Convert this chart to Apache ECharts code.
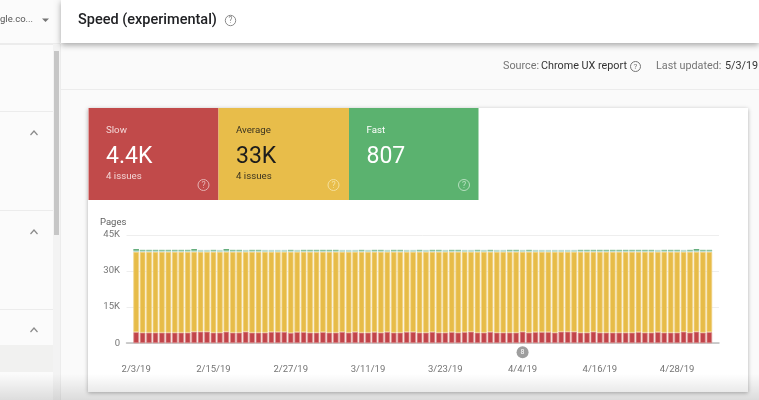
<!DOCTYPE html>
<html>
<head>
<meta charset="utf-8">
<style>html,body{margin:0;padding:0;background:#fafafa}#container{width:759px;height:400px}</style>
<script src="https://cdn.jsdelivr.net/npm/echarts@6/dist/echarts.min.js"></script>
</head>
<body>
<div id="container"></div>
<script>
// one category per day, the chart leaves a blank slot at each end
var days = ['2/3/19','2/4/19','2/5/19','2/6/19','2/7/19','2/8/19','2/9/19','2/10/19','2/11/19','2/12/19',
  '2/13/19','2/14/19','2/15/19','2/16/19','2/17/19','2/18/19','2/19/19','2/20/19','2/21/19','2/22/19',
  '2/23/19','2/24/19','2/25/19','2/26/19','2/27/19','2/28/19','3/1/19','3/2/19','3/3/19','3/4/19',
  '3/5/19','3/6/19','3/7/19','3/8/19','3/9/19','3/10/19','3/11/19','3/12/19','3/13/19','3/14/19',
  '3/15/19','3/16/19','3/17/19','3/18/19','3/19/19','3/20/19','3/21/19','3/22/19','3/23/19','3/24/19',
  '3/25/19','3/26/19','3/27/19','3/28/19','3/29/19','3/30/19','3/31/19','4/1/19','4/2/19','4/3/19',
  '4/4/19','4/5/19','4/6/19','4/7/19','4/8/19','4/9/19','4/10/19','4/11/19','4/12/19','4/13/19',
  '4/14/19','4/15/19','4/16/19','4/17/19','4/18/19','4/19/19','4/20/19','4/21/19','4/22/19','4/23/19',
  '4/24/19','4/25/19','4/26/19','4/27/19','4/28/19','4/29/19','4/30/19','5/1/19','5/2/19','5/3/19'];
var slow = [4600,4400,4400,4400,4400,4400,4400,4400,4400,4800,
  4800,4800,4400,4400,4800,4400,4400,4800,4400,4400,
  4400,4700,4700,4700,4300,4600,4600,4400,4400,4600,
  4400,4400,4700,4400,4700,4400,4400,4600,4400,4700,
  4400,4400,4700,4700,4400,4400,4700,4400,4400,4600,
  4400,4600,4800,4400,4400,4700,4400,4400,4400,4400,
  4800,4400,4600,4600,4600,4400,4800,4800,4800,4400,
  4400,4800,4400,4400,4400,4400,4400,4400,4600,4400,
  4400,4600,4400,4400,4400,4800,4400,4800,4400,4600];
var average = [33300,33500,33500,33500,33500,33500,33500,33500,33500,33100,
  33100,33100,33500,33500,33100,33500,33500,33100,33500,33500,
  33500,33200,33200,33200,33600,33300,33300,33500,33500,33300,
  33500,33500,33200,33500,33200,33500,33500,33300,33500,33200,
  33500,33500,33200,33200,33500,33500,33200,33500,33500,33300,
  33500,33300,33100,33500,33500,33200,33500,33500,33500,33500,
  33100,33500,33300,33300,33300,33500,33100,33100,33100,33500,
  33500,33100,33500,33500,33500,33500,33500,33500,33300,33500,
  33500,33300,33500,33500,33500,33100,33500,33100,33500,33300];
var fast = [550,550,550,550,550,550,550,550,550,550,
  850,850,550,850,550,550,550,850,550,550,
  850,850,850,850,550,850,550,550,550,550,
  550,550,850,850,850,550,850,550,550,850,
  550,550,850,850,550,850,550,550,850,550,
  550,850,850,550,850,550,850,850,550,550,
  850,550,850,850,850,850,850,850,850,550,
  550,550,550,550,550,550,550,550,550,550,
  550,850,550,550,550,850,550,550,550,550];
var fastTop = [600,300,300,300,300,300,300,300,300,600,
  0,0,300,0,600,300,300,0,300,300,
  0,0,0,0,300,0,300,300,300,300,
  300,300,0,0,0,300,0,300,300,0,
  300,300,0,0,300,0,300,300,0,300,
  300,0,0,300,0,300,0,0,300,300,
  0,300,0,0,0,0,0,0,0,300,
  300,300,300,300,300,300,300,300,300,300,
  300,0,300,300,300,0,300,600,300,300];
var tickLabels = ['2/3/19','2/15/19','2/27/19','3/11/19','3/23/19','4/4/19','4/16/19','4/28/19'];
var annotationDay = '4/4/19';
var annotationCount = '8';
var tileNames = ['Slow','Average','Fast'];
var tileValues = ['4.4K','33K','807'];
var tileNotes = ['4 issues','4 issues',''];

var FONT = 'Roboto';
var dom = document.getElementById('container');
var myChart = echarts.init(dom);

function pairs(arr) {
  return arr.map(function (v, i) { return [days[i], v]; });
}
function txt(x, y, text, size, color, weight) {
  return {type: 'text', x: x, y: y, style: {text: text, fontFamily: FONT, fontSize: size, fill: color, fontWeight: weight || 400, verticalAlign: 'middle'}};
}
function help(x, y, color, r) {
  r = r || 5;
  return {type: 'group', x: x, y: y, children: [
    {type: 'circle', shape: {cx: 0, cy: 0, r: r}, style: {fill: 'none', stroke: color, lineWidth: 1}},
    {type: 'text', style: {text: '?', x: 0, y: 0.5, align: 'center', verticalAlign: 'middle', fontFamily: FONT, fontSize: r * 1.6, fill: color}}
  ]};
}
function chevron(x, y) {
  return {type: 'polyline', shape: {points: [[x - 3.5, y + 2], [x, y - 2], [x + 3.5, y + 2]]}, style: {fill: 'none', stroke: '#8a8a8a', lineWidth: 1.2}};
}
function rule(x1, y, x2) {
  return {type: 'rect', shape: {x: x1, y: y, width: x2 - x1, height: 1}, style: {fill: '#ececec'}};
}

var tileX = [88.5, 218.5, 349];
var tileW = [130, 130.5, 129.5];
var tileFill = ['#c14a4a', '#e8bd4a', '#5bb26f'];
var tileText = ['#ffffff', '#1c1c1c', '#ffffff'];
var tileNote = ['#f3d6d6', '#3a3320', '#ffffff'];
var tileHelp = ['#e5b2b2', '#f5e09c', '#b6e0bf'];

var chrome = [
  {type: 'rect', shape: {x: 0, y: 0, width: 759, height: 400}, style: {fill: '#fafafa'}},
  // side panel
  {type: 'rect', shape: {x: 0, y: 0, width: 53, height: 400}, style: {fill: '#fbfbfb'}},
  rule(0, 44, 53), rule(0, 111, 53), rule(0, 210, 53), rule(0, 309, 53),
  {type: 'rect', shape: {x: 0, y: 345, width: 53, height: 27}, style: {fill: '#f1f1f0'}},
  {type: 'rect', shape: {x: 53, y: 44, width: 7, height: 356}, style: {fill: '#f3f3f3'}},
  {type: 'rect', shape: {x: 54, y: 51, width: 5, height: 184}, style: {fill: '#c6c6c6'}},
  {type: 'rect', shape: {x: 60, y: 44, width: 1, height: 356}, style: {fill: '#ececec'}},
  chevron(34, 133), chevron(34, 232), chevron(34, 330),
  txt(0, 20, 'gle.co...', 9.5, '#555555'),
  {type: 'polygon', shape: {points: [[42, 18.5], [49, 18.5], [45.5, 22]]}, style: {fill: '#757575'}},
  rule(0, 43, 60),
  // header
  {type: 'rect', shape: {x: 61, y: 0, width: 698, height: 43}, style: {fill: '#ffffff', shadowBlur: 6, shadowOffsetY: 2, shadowColor: 'rgba(0,0,0,0.35)'}},
  txt(78, 20.5, 'Speed (experimental)', 14.5, '#202124', 500),
  help(230.5, 20.5, '#8a8a8a', 5.2),
  // source line
  txt(503, 66.5, 'Source:', 10.8, '#757575'),
  txt(541, 66.5, 'Chrome UX report', 10.8, '#333333'),
  help(635.5, 66.5, '#757575', 5),
  txt(656, 66.5, 'Last updated:', 10.8, '#757575'),
  txt(725, 66.5, '5/3/19', 10.8, '#333333'),
  rule(61, 89, 759),
  // card
  {type: 'rect', shape: {x: 88, y: 108, width: 660, height: 284}, style: {fill: '#ffffff', shadowBlur: 4, shadowOffsetY: 1, shadowColor: 'rgba(0,0,0,0.3)'}}
];
tileNames.forEach(function (name, i) {
  var x = tileX[i] + 17.5;
  chrome.push({type: 'rect', shape: {x: tileX[i], y: 108, width: tileW[i], height: 92}, style: {fill: tileFill[i]}});
  chrome.push(txt(x, 131, name, 9.7, tileNote[i]));
  chrome.push(txt(x, 157, tileValues[i], 23, tileText[i]));
  if (tileNotes[i]) chrome.push(txt(x, 177, tileNotes[i], 9.7, tileNote[i]));
  chrome.push(help(tileX[i] + 115, 185, tileHelp[i], 5.5));
});
chrome.push(txt(100, 223, 'Pages', 9.5, '#616161'));
// the photo fades to grey at the bottom edge
var fade = {type: 'rect', z: 100, shape: {x: 0, y: 374, width: 759, height: 26}, style: {
  fill: new echarts.graphic.LinearGradient(0, 0, 0, 1, [
    {offset: 0, color: 'rgba(0,0,0,0)'},
    {offset: 1, color: 'rgba(0,0,0,0.12)'}
  ])
}};

function barSeries(name, values, color, edge) {
  return {
    name: name,
    type: 'bar',
    stack: 'pages',
    barWidth: 5.6,
    data: pairs(values),
    itemStyle: {color: color, borderColor: edge, borderWidth: edge ? 0.8 : 0},
    silent: true,
    animation: false
  };
}

var slowSeries = barSeries('Slow', slow, '#c2444a', '#dc8f8f');
slowSeries.markPoint = {
  silent: true,
  animation: false,
  symbol: 'circle',
  symbolSize: 12,
  symbolOffset: [0, 9],
  itemStyle: {color: '#9e9e9e'},
  label: {color: '#ffffff', fontSize: 7, fontFamily: FONT},
  data: [{coord: [annotationDay, 0], value: annotationCount}]
};

var option = {
  animation: false,
  textStyle: {fontFamily: FONT},
  graphic: {elements: chrome.concat([fade])},
  grid: {left: 126.5, right: 40, top: 234.8, bottom: 56.8},
  xAxis: {
    type: 'category',
    data: ['start'].concat(days, ['end']),
    splitLine: {show: false},
    axisTick: {show: false},
    axisLine: {show: true, lineStyle: {color: '#bdbdbd', width: 1.5}},
    axisLabel: {
      interval: function (index, value) { return tickLabels.indexOf(value) >= 0; },
      margin: 21,
      color: '#757575',
      fontSize: 9.5,
      fontFamily: FONT
    }
  },
  yAxis: {
    type: 'value',
    min: 0,
    max: 45000,
    interval: 15000,
    axisLine: {show: false},
    axisTick: {show: false},
    splitLine: {lineStyle: {color: '#eeeeee'}},
    axisLabel: {
      margin: 6.5,
      color: '#757575',
      fontSize: 9.5,
      fontFamily: FONT,
      formatter: function (v) { return v ? v / 1000 + 'K' : '0'; }
    }
  },
  series: [
    slowSeries,
    barSeries('Average', average, '#e7bc48', '#f0d282'),
    barSeries('Fast', fast, '#bcdcd0', null),
    barSeries('Fast top', fastTop, '#4fa36b', null)
  ]
};
myChart.setOption(option);
</script>
</body>
</html>
